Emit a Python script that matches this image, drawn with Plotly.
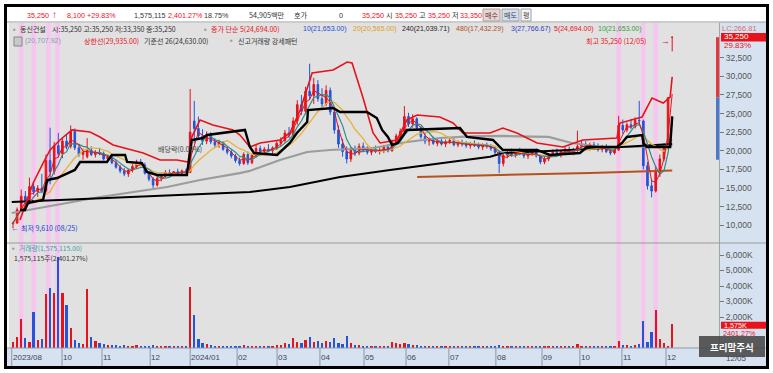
import plotly.graph_objects as go
import pandas as pd

W, H = 773, 373
FONT = "Liberation Sans, Noto Sans CJK KR, sans-serif"
KFONT = "Noto Sans CJK KR, Liberation Sans, sans-serif"

# ---------------- data (2-trading-day candles, index 0 = 2023/08 ... 160 = 2024/12/05) -------------
opens = [10200, 10300, 12100, 13900, 13300, 15200, 14500, 15000, 14600, 18700,
         17200, 20700, 19600, 21300, 20600, 22600, 20400, 19500, 19200, 20100,
         19500, 19800, 19600, 18900, 19200, 18400, 17800, 17300, 16900, 17400,
         17900, 18500, 18100, 17000, 16200, 15400, 16300, 16600, 17100, 16900,
         17200, 17000, 17300, 17100, 24000, 23000, 22000, 21300, 22100, 21200,
         20800, 21100, 20200, 19800, 19300, 18700, 18300, 19500, 18400, 19400,
         20300, 19900, 20200, 20000, 20400, 21000, 21400, 22400, 22100, 24000,
         26200, 25300, 28000, 27400, 28900, 27000, 26300, 28100, 25200, 22800,
         20900, 19900, 18900, 20100, 19700, 20600, 20100, 19800, 20200, 19900,
         20100, 20500, 20000, 21200, 22000, 22600, 24600, 23600, 24300, 23100,
         21900, 21300, 21500, 21000, 21300, 20900, 21200, 21400, 20800, 21100,
         20900, 20700, 21000, 20700, 20500, 20800, 20600, 20300, 19800, 18300,
         19400, 19700, 19500, 19900, 19600, 19300, 19600, 19900, 19300, 18500,
         18900, 19500, 19800, 19500, 19900, 20200, 19800, 20100, 20600, 20900,
         20400, 20800, 20500, 20200, 20500, 19900, 19700, 20100, 23400, 22800,
         23500, 23200, 24100, 24000, 18000, 15300, 14600, 17400, 18900, 20500,
         35250]
highs = [10500, 12400, 14800, 14600, 16400, 15800, 15400, 16900, 19500, 23100,
         21200, 22400, 21800, 22200, 23400, 23000, 20900, 20300, 21700, 20600,
         20100, 20400, 19900, 19500, 19400, 18800, 18100, 17700, 17600, 18200,
         18800, 18900, 18400, 17300, 16500, 16600, 16900, 17400, 17500, 17300,
         17600, 17500, 17600, 28300, 26700, 24600, 22900, 22600, 22500, 21700,
         21500, 21300, 20600, 20100, 19600, 19100, 19800, 19900, 19600, 20800,
         20700, 20500, 20900, 20600, 21300, 21800, 22800, 23200, 24500, 26800,
         27500, 28600, 31700, 29800, 29500, 28400, 28800, 28500, 25600, 23400,
         21600, 20600, 20500, 20700, 21000, 21100, 20600, 20500, 20700, 20400,
         20800, 20900, 21500, 22300, 23000, 26000, 25100, 24900, 24500, 23300,
         22400, 21800, 21900, 21600, 21700, 21500, 21800, 21700, 21400, 21500,
         21300, 21200, 21400, 21100, 21000, 21100, 20900, 20600, 20000, 19700,
         20100, 20300, 20200, 20400, 20000, 19900, 20200, 20300, 19500, 19200,
         19700, 20200, 20300, 20100, 20500, 20600, 20400, 22700, 21400, 21300,
         21100, 21200, 21000, 20800, 20900, 20300, 20400, 24700, 24200, 23800,
         24300, 24500, 26700, 24200, 18500, 16200, 18000, 19500, 21000, 27150,
         35250]
lows = [9610, 10200, 11800, 12900, 13000, 14100, 13800, 14300, 14400, 15500,
        16800, 19100, 19000, 20200, 20300, 20100, 19200, 18800, 19000, 19300,
        19100, 19400, 18700, 18500, 18200, 17600, 17000, 16600, 16500, 17100,
        17600, 17900, 16800, 15900, 15000, 15200, 15900, 16400, 16700, 16600,
        16800, 16700, 16900, 17000, 21000, 21600, 20800, 20900, 20900, 20500,
        20400, 20000, 19500, 19000, 18400, 18000, 18100, 18100, 18200, 19100,
        19600, 19500, 19800, 19400, 20100, 20600, 21100, 21700, 21900, 23500,
        24800, 24900, 26800, 26300, 26600, 25800, 26000, 24800, 22300, 20400,
        19200, 18300, 18500, 19300, 19400, 19900, 19500, 19400, 19700, 19500,
        19700, 19800, 19900, 20900, 21500, 22400, 23200, 23100, 22800, 21600,
        20900, 20700, 20800, 20600, 20700, 20500, 20900, 20600, 20500, 20600,
        20400, 20300, 20500, 20200, 20100, 20300, 20000, 19500, 17000, 17900,
        19000, 19200, 19100, 19400, 19000, 18900, 19300, 19100, 18200, 18200,
        18600, 19200, 19300, 19100, 19500, 19600, 19400, 19800, 20100, 20200,
        20000, 20300, 19900, 19800, 19700, 19400, 19500, 20000, 22300, 22500,
        22900, 23000, 23500, 17500, 14800, 13750, 14400, 16500, 18600, 20300,
        33350]
closes = [10300, 12100, 13900, 13300, 15200, 14500, 15000, 14600, 18700, 17200,
          20700, 19600, 21300, 20600, 22600, 20400, 19500, 19900, 20100, 19500,
          19800, 19600, 18900, 19200, 18400, 17800, 17300, 16900, 17400, 17900,
          18500, 18100, 17000, 16200, 15400, 16300, 16600, 17100, 16900, 17200,
          17000, 17300, 17100, 22500, 23000, 22000, 21300, 22100, 21200, 20800,
          21100, 20200, 19800, 19300, 18700, 18300, 19500, 18400, 19400, 20300,
          19900, 20200, 20000, 20400, 21000, 21400, 22400, 22100, 24000, 26200,
          25300, 28000, 27400, 28900, 27000, 26300, 28100, 25200, 22800, 20900,
          19900, 18900, 20100, 19700, 20600, 20100, 19800, 20200, 19900, 20100,
          20500, 20000, 21200, 22000, 22600, 24600, 23600, 24300, 23100, 21900,
          21300, 21500, 21000, 21300, 20900, 21200, 21400, 20800, 21100, 20900,
          20700, 21000, 20700, 20500, 20800, 20600, 20300, 19800, 18300, 19400,
          19700, 19500, 19900, 19600, 19300, 19600, 19900, 19300, 18500, 18900,
          19500, 19800, 19500, 19900, 20200, 19800, 20100, 20600, 20900, 20400,
          20800, 20500, 20200, 20500, 19900, 19700, 20100, 23400, 22800, 23500,
          23200, 24100, 24000, 18000, 15300, 14600, 17400, 18900, 20500, 27150,
          35250]
volumes_k = [400, 700, 1870, 650, 400, 2320, 500, 600, 3480, 3870,
             3550, 5900, 3550, 2770, 1290, 500, 350, 250, 3800, 700,
             450, 350, 250, 200, 220, 180, 160, 200, 150, 140,
             170, 130, 160, 150, 180, 140, 120, 130, 110, 120,
             100, 120, 110, 3940, 2130, 600, 300, 250, 200, 160,
             150, 130, 140, 120, 150, 130, 180, 140, 120, 160,
             130, 150, 120, 140, 180, 220, 300, 250, 640, 400,
             350, 520, 700, 400, 450, 350, 420, 380, 640, 320,
             250, 770, 300, 200, 180, 150, 130, 140, 120, 130,
             150, 130, 390, 300, 250, 350, 250, 200, 180, 150,
             130, 120, 110, 120, 100, 130, 150, 110, 120, 100,
             90, 110, 100, 90, 110, 90, 80, 120, 200, 130,
             110, 90, 100, 90, 80, 100, 110, 90, 130, 100,
             110, 90, 80, 90, 100, 80, 90, 250, 150, 100,
             110, 90, 80, 90, 80, 90, 100, 450, 200, 180,
             150, 200, 250, 1740, 400, 1030, 2450, 600, 350, 65,
             1575]

# Bollinger upper band (상한선)
upper_x = [1.7, 4.9, 7.3, 9.0, 11.4, 14.3, 18.7, 21.1, 24.3, 29.1, 31.6, 35.7, 39.8, 42.5, 43.4,
           45.4, 48.5, 53.4, 55.1, 57.5, 60.0, 64.8, 67.2, 69.7, 72.6, 77.7, 81.1, 82.3, 84.9, 87.4,
           89.1, 93.2, 95.6, 98.1, 103.6, 106.8, 109.2, 115.8, 118.9, 122.3, 127.2, 133.5, 138.3,
           146.6, 147.3, 152.7, 155.1, 157.8, 159.5, 160]
upper_y = [10700, 15680, 18360, 20110, 21450, 22800, 22530, 21850, 20780, 20110, 19700, 18770, 18770, 18500, 21850,
           24140, 23470, 22800, 22120, 20510, 21050, 21450, 22390, 25480, 30450, 30850, 31920, 31790, 27220, 22390,
           21050, 21450, 24140, 24810, 24540, 23730, 22390, 22390, 23060, 22390, 21050, 20510, 21450,
           21720, 23730, 24540, 27090, 26420, 27220, 29935]
# 기준선 26
kijun_x = [1.7, 2.9, 3.6, 7.3, 8.3, 10.7, 15.0, 16.3, 22.8, 24.0, 27.2, 27.7, 31.3, 32.5, 35.0, 42.2, 43.4,
           46.1, 47.1, 56.3, 57.0, 57.5, 58.5, 64.1, 67.2, 68.9, 71.4, 71.6, 77.7, 79.4, 85.9, 88.3, 89.6,
           91.0, 92.0, 93.4, 95.6, 105.3, 108.5, 110.2, 116.5, 118.2, 118.9, 127.2, 130.3, 137.6, 139.3,
           146.6, 147.8, 149.0, 152.7, 153.0, 153.9, 159.5, 160]
kijun_y = [12060, 12060, 13000, 13400, 16080, 16350, 17430, 18500, 18500, 19440, 19440, 18500, 18360, 17160, 16750, 16750, 21450,
           21720, 22120, 22800, 21450, 20510, 19700, 19440, 21050, 22390, 23870, 25480, 25750, 25210, 25210, 24400, 22800,
           21860, 20780, 21050, 22800, 23060, 23060, 21860, 21450, 20510, 20110, 20110, 19440, 19700, 20510,
           20510, 21050, 21860, 22120, 21050, 20510, 20510, 24630]
# long moving averages
gray_x = [-0.3, 21.1, 37.4, 45.4, 55.0, 57.5, 64.8, 71.4, 76.9, 87.4, 95.6, 103.6, 111.0, 118.9, 126.0, 130.0,
          135.6, 142.9, 150.0, 160.0]
gray_y = [11650, 13800, 15140, 16080, 17000, 17300, 18770, 19840, 20110, 20380, 21180, 21720, 21950, 22000, 21900, 21860,
          21050, 20510, 20510, 20708]
ma240_x = [-0.3, 29.1, 57.5, 67.2, 79.4, 91.5, 103.6, 115.8, 118.9, 135.2, 160.0]
ma240_y = [13130, 13800, 14470, 15140, 16490, 17430, 18360, 19200, 19700, 20110, 20900]
ma480_x = [98.1, 120.0, 140.0, 160.0]
ma480_y = [16490, 16750, 17030, 17350]

pattern_idx = [2.0, 5.0, 8.6, 10.8, 147.0, 153.0, 156.0]     # 신고거래량 강세패턴
month_pos = [-0.3, 11.9, 21.6, 33.3, 43.0, 54.4, 64.1, 74.5, 85.2, 95.4, 105.8, 117.2, 128.4, 137.6, 147.8, 158.5]
month_lbl = ["2023/08", "10", "11", "12", "2024/01", "02", "03", "04", "05", "06", "07", "08", "09", "10", "11", "12"]
price_ticks = [10000, 12500, 15000, 17500, 20000, 22500, 25000, 27500, 30000, 32500]
vol_ticks = [2000, 3000, 4000, 5000, 6000]
range_bar = [35250, 27150, 18800]

# ---------------- figure ----------------
idx = list(range(len(closes)))
cs = pd.Series(closes, dtype=float)
ma5 = cs.rolling(3, min_periods=1).mean()
ma10 = cs.rolling(5, min_periods=1).mean()
ma20 = cs.rolling(10, min_periods=1).mean()

RED = "#e8121a"
BLUE = "#2255d8"
up = [c >= o for o, c in zip(opens, closes)]
vcol = [RED if u else BLUE for u in up]

fig = go.Figure()
fig.add_trace(go.Scatter(x=gray_x, y=gray_y, mode="lines", line=dict(color="#9c9c9c", width=2.2), hoverinfo="skip"))
fig.add_trace(go.Scatter(x=ma240_x, y=ma240_y, mode="lines", line=dict(color="#000000", width=2), hoverinfo="skip"))
fig.add_trace(go.Scatter(x=ma480_x, y=ma480_y, mode="lines", line=dict(color="#b4531f", width=2), hoverinfo="skip"))
fig.add_trace(go.Scatter(x=idx, y=ma20, mode="lines", line=dict(color="#e8b23a", width=1.3), hoverinfo="skip"))
fig.add_trace(go.Scatter(x=idx, y=ma10, mode="lines", line=dict(color="#2a8f8a", width=1.2), hoverinfo="skip"))
fig.add_trace(go.Candlestick(x=idx, open=opens, high=highs, low=lows, close=closes,
                             increasing=dict(line=dict(color=RED, width=1), fillcolor=RED),
                             decreasing=dict(line=dict(color=BLUE, width=1), fillcolor=BLUE),
                             whiskerwidth=0, hoverinfo="skip"))
fig.add_trace(go.Scatter(x=idx, y=ma5, mode="lines", line=dict(color=RED, width=1), hoverinfo="skip"))
fig.add_trace(go.Scatter(x=upper_x, y=upper_y, mode="lines", line=dict(color=RED, width=1.6), hoverinfo="skip"))
fig.add_trace(go.Scatter(x=kijun_x, y=kijun_y, mode="lines", line=dict(color="#000000", width=2.4), hoverinfo="skip"))
fig.add_trace(go.Bar(x=idx, y=volumes_k, marker=dict(color=vcol, line=dict(width=0)), width=0.55,
                     xaxis="x2", yaxis="y2", hoverinfo="skip"))

PX = lambda x: x / W
PY = lambda y: 1 - y / H
x_left, x_right = 9, 719
top, split, bottom = 23, 243, 348
xr = [-0.97, -0.97 + (x_right - x_left) / 4.12]

fig.update_layout(
    width=W, height=H, margin=dict(l=0, r=0, t=0, b=0), showlegend=False,
    paper_bgcolor="white", plot_bgcolor="#e1e1e1", bargap=0, boxgap=0.45,
    xaxis=dict(domain=[PX(x_left), PX(x_right)], range=xr, showticklabels=False, showgrid=False,
               zeroline=False, anchor="y", rangeslider=dict(visible=False), fixedrange=True),
    xaxis2=dict(domain=[PX(x_left), PX(x_right)], range=xr, showticklabels=False, showgrid=False,
                zeroline=False, anchor="y2", matches="x"),
    yaxis=dict(domain=[PY(split), PY(top)], range=[7624, 37158], side="right", anchor="x",
               tickvals=price_ticks, ticktext=[f"{v:,}" for v in price_ticks],
               ticks="outside", ticklen=4, tickcolor="#777", showline=True, linecolor="#9aa",
               tickfont=dict(size=8.5, color="#555", family=FONT), showgrid=False, zeroline=False),
    yaxis2=dict(domain=[PY(bottom), PY(split)], range=[0, 6774], side="right", anchor="x2",
                tickvals=vol_ticks, ticktext=[f"{v:,}K" for v in vol_ticks],
                ticks="outside", ticklen=4, tickcolor="#777", showline=True, linecolor="#9aa",
                tickfont=dict(size=8.5, color="#555", family=FONT), showgrid=False, zeroline=False),
)

shapes = []
LB = "#d6e2f0"
# right axis panel & bottom axis row
shapes.append(dict(type="rect", xref="paper", yref="paper", x0=PX(x_right), x1=PX(766), y0=PY(bottom), y1=PY(22),
                   fillcolor=LB, line=dict(width=0), layer="below"))
shapes.append(dict(type="rect", xref="paper", yref="paper", x0=PX(7), x1=PX(766), y0=PY(366), y1=PY(bottom),
                   fillcolor=LB, line=dict(width=0), layer="below"))
# top info bar
shapes.append(dict(type="rect", xref="paper", yref="paper", x0=PX(6), x1=PX(767), y0=PY(22), y1=PY(6),
                   fillcolor="white", line=dict(width=0), layer="below"))
shapes.append(dict(type="line", xref="paper", yref="paper", x0=PX(6), x1=PX(767), y0=PY(22), y1=PY(22),
                   line=dict(color="#9a9a9a", width=1)))
# panel separators
for yy, col in [(split, "#9a9a9a"), (bottom, "#8899aa")]:
    shapes.append(dict(type="line", xref="paper", yref="paper", x0=PX(7), x1=PX(766), y0=PY(yy), y1=PY(yy),
                       line=dict(color=col, width=1)))
# pattern bands
for p in pattern_idx:
    for ref in ["y domain", "y2 domain"]:
        shapes.append(dict(type="rect", xref="x", yref=ref, x0=p - 0.55, x1=p + 0.55, y0=0, y1=1,
                           fillcolor="#f6c6f0", line=dict(width=0), layer="below"))
# month ticks on the axis row
for m in month_pos:
    shapes.append(dict(type="line", xref="x", yref="paper", x0=m, x1=m, y0=PY(366), y1=PY(bottom),
                       line=dict(color="#8898a8", width=1)))
# day range bar on the right axis
shapes.append(dict(type="rect", xref="paper", yref="y", x0=PX(716), x1=PX(719), y0=range_bar[1], y1=range_bar[0],
                   fillcolor="#e8343a", line=dict(width=0)))
shapes.append(dict(type="rect", xref="paper", yref="y", x0=PX(716), x1=PX(719), y0=range_bar[2], y1=range_bar[1],
                   fillcolor="#4a78d0", line=dict(width=0)))
# current price / volume boxes
shapes.append(dict(type="rect", xref="paper", yref="y", x0=PX(721), x1=PX(766), y0=closes[-1] - 560, y1=closes[-1] + 560,
                   fillcolor="#e8121a", line=dict(width=0)))
shapes.append(dict(type="rect", xref="paper", yref="y2", x0=PX(721), x1=PX(766), y0=volumes_k[-1] - 340, y1=volumes_k[-1] + 120,
                   fillcolor="#e8121a", line=dict(width=0)))
# icon square
shapes.append(dict(type="rect", xref="paper", yref="paper", x0=PX(14), x1=PX(22), y0=PY(46), y1=PY(37),
                   fillcolor="#c8c8c8", line=dict(color="#888", width=1)))
# watermark box
shapes.append(dict(type="rect", xref="paper", yref="paper", x0=PX(699), x1=PX(765), y0=PY(357), y1=PY(336),
                   fillcolor="rgba(70,70,70,0.88)", line=dict(width=0)))
# outer frame
shapes.append(dict(type="rect", xref="paper", yref="paper", x0=PX(5.5), x1=PX(767.5), y0=PY(367.5), y1=PY(5.5),
                   line=dict(color="black", width=3)))

ann = []
def txt(x, y, s, color, size=7.5, anchor="left", family=FONT):
    ann.append(dict(x=PX(x), y=PY(y), xref="paper", yref="paper", text=s, showarrow=False, borderpad=0,
                    xanchor=anchor, yanchor="middle", font=dict(size=size, color=color, family=family)))

DK = "#333333"
TS = 7.2
LS = 7.0
# top info bar
txt(26, 15, "35,250", RED, TS)
txt(51, 14, "<b>↑</b>", RED, size=10)
txt(66, 15, "8,100", RED, TS)
txt(86, 15, "+29.83%", RED, TS)
txt(133, 15, "1,575,115", DK, TS)
txt(167, 15, "2,401.27%", RED, TS)
txt(203, 15, "18.75%", DK, TS)
txt(248, 15, "54,905백만", DK, TS, family=KFONT)
txt(293, 15, "호가", DK, TS, family=KFONT)
txt(338, 15, "0", DK, TS)
txt(361, 15, "35,250", RED, TS)
txt(385, 15, "시", DK, TS, family=KFONT)
txt(394, 15, "35,250", RED, TS)
txt(418, 15, "고", DK, TS, family=KFONT)
txt(427, 15, "35,250", RED, TS)
txt(451, 15, "저", DK, TS, family=KFONT)
txt(459, 15, "33,350", RED, TS)
for x0, x1, fc, s in [(483, 500, "#f1d2d2", "매수"), (502, 519, "#d2def0", "매도"), (521, 531, "#f4f4f4", "평")]:
    shapes.append(dict(type="rect", xref="paper", yref="paper", x0=PX(x0), x1=PX(x1), y0=PY(21), y1=PY(9),
                       fillcolor=fc, line=dict(color="#a0a0a0", width=1)))
    txt((x0 + x1) / 2, 15, s, "#444", size=7, anchor="center", family=KFONT)

# legend row 2
txt(12, 29, "▪", "#999", size=8)
txt(19, 29, "동신건설", DK, LS, family=KFONT)
txt(51, 29, "시:35,250 고:35,250 저:33,350 종:35,250", DK, LS, family=KFONT)
txt(203, 29, "▪", "#999", size=8)
txt(210, 29, "종가 단순 5(24,694.00)", RED, LS, family=KFONT)
txt(302, 29, "10(21,653.00)", "#2050d0", LS)
txt(352, 29, "20(20,565.00)", "#e0a020", LS)
txt(401, 29, "240(21,039.71)", "#222", LS)
txt(455, 29, "480(17,432.29)", "#b0501e", LS)
txt(510, 29, "3(27,766.67)", "#3040c0", LS)
txt(553, 29, "5(24,694.00)", RED, LS)
txt(597, 29, "10(21,653.00)", "#30a040", LS)
# legend row 3
txt(24, 41, "(20,707.92)", "#8a9ab4", LS)
txt(83, 41, "상한선(29,935.00)", RED, LS, family=KFONT)
txt(143, 41, "기준선 26(24,630.00)", DK, LS, family=KFONT)
txt(229, 41, "▪", "#999", size=8)
txt(237, 41, "신고거래량 강세패턴", DK, LS, family=KFONT)

# chart notes
txt(585, 41, "최고 35,250 (12/05)", RED, LS, family=KFONT)
txt(660, 41, "<b>→</b>", RED, size=9)
txt(157, 149, "배당락(0.00%)", "#444", LS, family=KFONT)
txt(10, 228, "<b>←</b>", "#2040d0", size=8)
txt(20, 228, "최저 9,610 (08/25)", "#2040d0", LS, family=KFONT)
# volume legend
txt(11, 248, "▪", "#999", size=8)
txt(18, 248, "거래량(1,575,115.00)", "#3aa0a8", 6.8, family=KFONT)
txt(13, 258, "1,575,115주(2,401.27%)", DK, 6.8, family=KFONT)

# right axis labels
txt(721, 28, "LC:266.81", "#e06a6a", size=7.5)
txt(723, 37, "35,250", "white", size=8)
txt(723, 45.5, "29.83%", RED, size=8)
txt(723, 325.5, "1,575K", "white", size=7.2)
txt(722, 333.5, "2401.27%", RED, size=7.2)
txt(725, 358, "12/05", "#445", size=8)
txt(732, 346.5, "<b>프리맘주식</b>", "white", size=9.5, anchor="center", family=KFONT)

# month labels
for m, s in zip(month_pos, month_lbl):
    ann.append(dict(x=m, y=PY(357), xref="x", yref="paper", text=s, showarrow=False, xanchor="left",
                    yanchor="middle", xshift=0, borderpad=0, font=dict(size=8, color="#445", family=FONT)))

fig.update_layout(shapes=shapes, annotations=ann)
fig.write_html("out.html")
